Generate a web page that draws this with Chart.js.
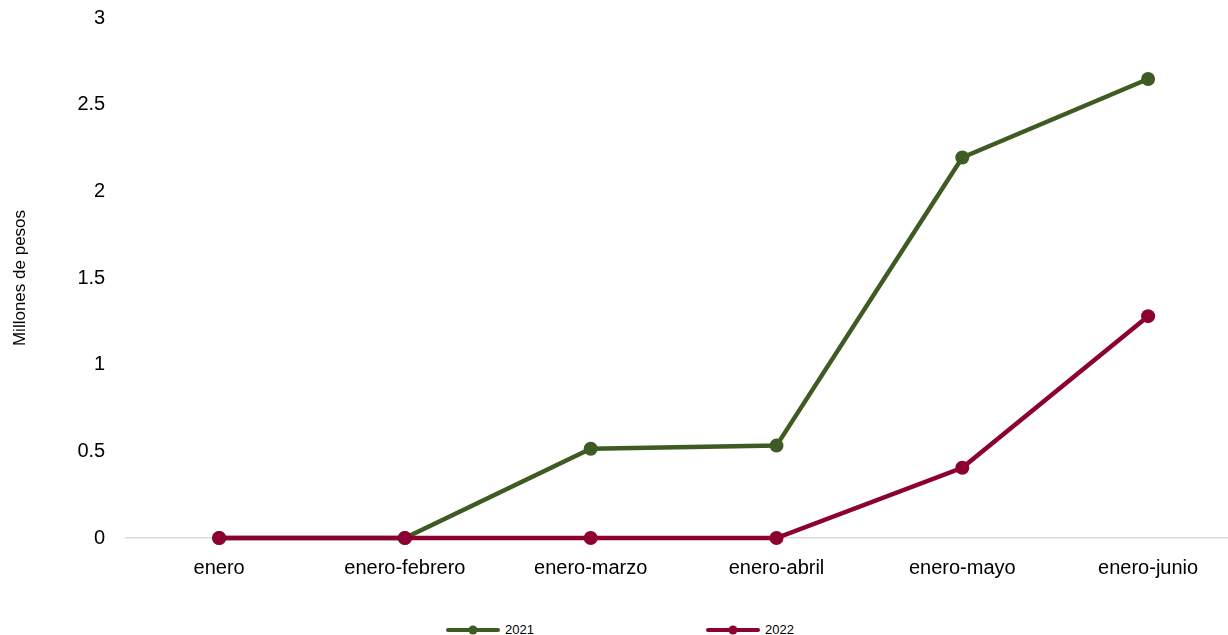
<!DOCTYPE html>
<html>
<head>
<meta charset="utf-8">
<script src="https://cdn.jsdelivr.net/npm/chart.js@4.4.0/dist/chart.umd.min.js"></script>
<style>
    html, body { margin: 0; padding: 0; background: #fff; overflow: hidden; }
    #wrap { position: relative; width: 1248px; height: 635px; }
    #box { position: absolute; left: 0; top: 0; width: 1248px; height: 598px; }
    .legend { position: absolute; top: 622px; font-family: Arial, "Liberation Sans", sans-serif; font-size: 13px; color: #000; display: flex; align-items: center; }
    .legend canvas { margin-right: 5px; }
</style>
</head>
<body>
<div id="wrap">
    <div id="box"><canvas id="chart"></canvas></div>
    <div class="legend" id="leg0" style="left:446px"></div>
    <div class="legend" id="leg1" style="left:706px"></div>
</div>
<script>
// Data
const months = ["enero", "enero-febrero", "enero-marzo", "enero-abril", "enero-mayo", "enero-junio"];
const seriesNames = ["2021", "2022"];
const values2021 = [0, 0, 0.515, 0.533, 2.195, 2.648];
const values2022 = [0, 0, 0, 0, 0.405, 1.28];
const seriesColors = ["#3e5b23", "#8c0032"];

const font = "Arial, 'Liberation Sans', sans-serif";

// legend built from the series names
seriesNames.forEach((name, i) => {
    const el = document.getElementById('leg' + i);
    const c = document.createElement('canvas');
    c.width = 54; c.height = 10;
    const g = c.getContext('2d');
    g.strokeStyle = seriesColors[i];
    g.lineWidth = 4;
    g.lineCap = 'round';
    g.beginPath(); g.moveTo(2, 5); g.lineTo(52, 5); g.stroke();
    g.fillStyle = seriesColors[i];
    g.beginPath(); g.arc(27, 5, 4.5, 0, Math.PI * 2); g.fill();
    el.appendChild(c);
    const s = document.createElement('span');
    s.textContent = name;
    el.appendChild(s);
});

const ctx = document.getElementById("chart").getContext("2d");
new Chart(ctx, {
    type: 'line',
    data: {
        labels: months,
        datasets: [
            {
                label: seriesNames[0],
                data: values2021,
                borderColor: seriesColors[0],
                backgroundColor: seriesColors[0],
                borderWidth: 4.5,
                pointRadius: 7,
                pointHoverRadius: 7,
                pointBorderWidth: 0,
                tension: 0,
                clip: false,
                order: 1,
            },
            {
                label: seriesNames[1],
                data: values2022,
                borderColor: seriesColors[1],
                backgroundColor: seriesColors[1],
                borderWidth: 4.5,
                pointRadius: 7,
                pointHoverRadius: 7,
                pointBorderWidth: 0,
                tension: 0,
                clip: false,
                order: 0,
            }
        ]
    },
    options: {
        responsive: true,
        maintainAspectRatio: false,
        animation: false,
        layout: { padding: { top: 0, right: 0, bottom: 0, left: 10 } },
        plugins: {
            legend: { display: false },
            tooltip: { enabled: false }
        },
        scales: {
            x: {
                offset: true,
                grid: { display: false, drawTicks: false },
                border: { display: true, color: '#d9d9d9', width: 1.5 },
                ticks: {
                    color: '#000',
                    padding: 18,
                    maxRotation: 0,
                    autoSkip: false,
                    font: { family: font, size: 20 }
                }
            },
            y: {
                min: 0,
                max: 3,
                // invisible grid, only used to push the labels away from the plot
                grid: { display: true, color: 'rgba(0,0,0,0)', drawTicks: true, tickLength: 15 },
                border: { display: false },
                ticks: {
                    stepSize: 0.5,
                    color: '#000',
                    padding: 6,
                    font: { family: font, size: 20 },
                    callback: (v) => String(v)
                },
                title: {
                    display: true,
                    text: 'Millones de pesos',
                    color: '#000',
                    padding: { top: 0, bottom: 41 },
                    font: { family: font, size: 17 }
                }
            }
        }
    }
});
</script>
</body>
</html>
